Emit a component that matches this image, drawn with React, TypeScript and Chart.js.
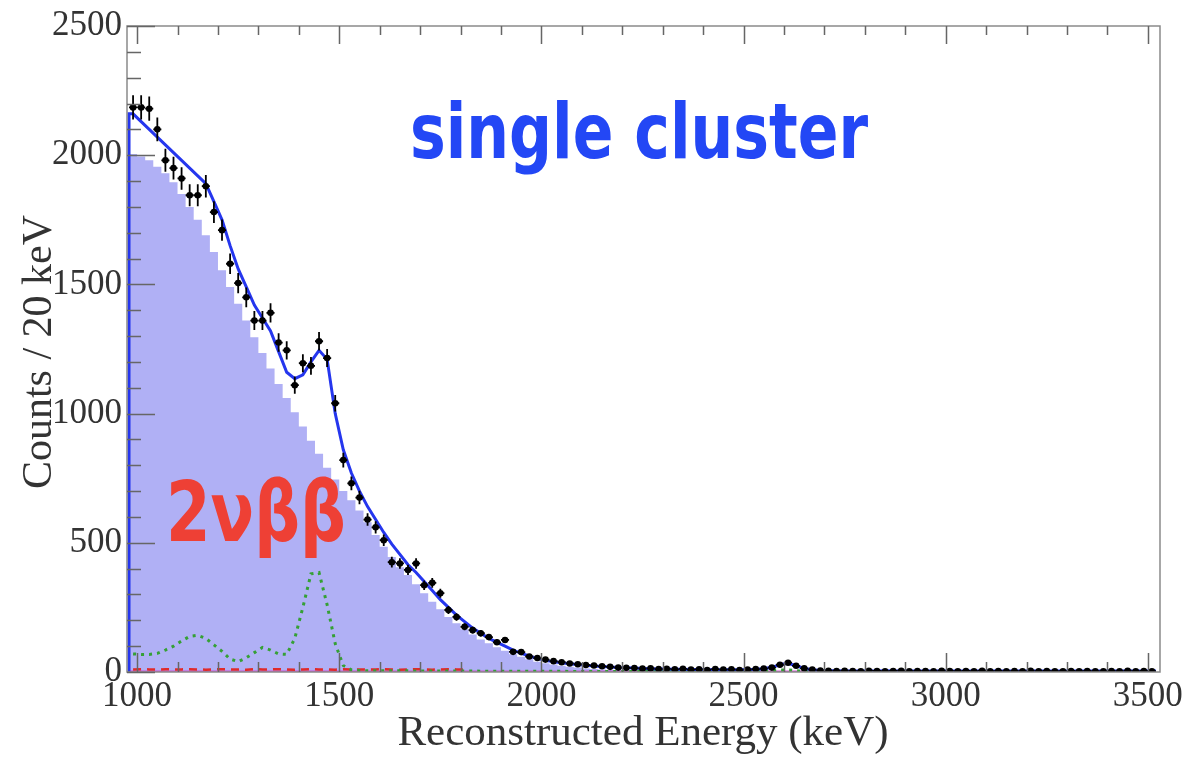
import React, { useEffect, useRef } from "react";
import { Chart, registerables } from "chart.js";

Chart.register(...registerables);

// ---------- data (20 keV bins starting at 980 keV) ----------
const BIN_START = 980;
const BIN_WIDTH = 20;
const X_MIN = 975;
const X_MAX = 3530;
const Y_MIN = 0;
const Y_MAX = 2500;

const xTickValues = [1000, 1500, 2000, 2500, 3000, 3500];
const yTickValues = [0, 500, 1000, 1500, 2000, 2500];

const xTitle = "Reconstructed Energy (keV)";
const yTitle = "Counts / 20 keV";
const labelSingle = "single cluster";
const label2nu = "2νββ";

// measured counts per bin
const dataCounts = [
  2185, 2185, 2180, 2100, 1980, 1950, 1910, 1845, 1845, 1880,
  1780, 1710, 1580, 1505, 1450, 1360, 1360, 1390, 1275, 1245,
  1110, 1195, 1185, 1280, 1215, 1040, 820, 730, 675, 590,
  560, 510, 425, 420, 395, 420, 336, 345, 305, 240,
  213, 175, 162, 150, 135, 115, 124, 78, 77, 60,
  54, 48, 42, 38, 33, 30, 27, 25, 22, 20,
  17, 16, 15, 13, 14, 11, 12, 10, 12, 9,
  10, 8, 11, 9, 10, 8, 9, 11, 13, 17,
  28, 36, 24, 14, 9, 6, 5, 4, 5, 4,
  3, 5, 4, 3, 4, 5, 3, 4, 4, 3,
  5, 4, 3, 4, 3, 5, 3, 4, 3, 4,
  3, 5, 3, 4, 3, 3, 4, 3, 4, 3,
  3, 4, 3, 5, 3, 4, 3,
];

// total fit (blue line, bin centres)
const totalFit = [
  2160, 2130, 2100, 2070, 2040, 2010, 1980, 1950, 1920, 1890,
  1820, 1750, 1650, 1560, 1490, 1420, 1370, 1320, 1240, 1160,
  1135, 1150, 1200, 1245, 1210, 1000, 860, 770, 700, 640,
  590, 540, 495, 455, 415, 385, 350, 315, 280, 250,
  220, 195, 170, 150, 130, 115, 100, 85, 72, 62,
  52, 45, 40, 36, 32, 29, 26, 23, 21, 19,
  17, 16, 15, 14, 13, 12, 12, 11, 11, 10,
  10, 10, 9, 9, 9, 9, 10, 11, 13, 18,
  28, 34, 24, 14, 9, 6, 5, 5, 4, 4,
  4, 4, 4, 5, 4, 4, 4, 4, 4, 4,
  4, 4, 4, 4, 4, 4, 4, 4, 4, 4,
  4, 4, 4, 4, 4, 4, 4, 4, 4, 4,
  4, 4, 4, 4, 4, 4, 4,
];

// 2nu double beta component (filled histogram)
const twoNuBB = [
  2010, 2005, 1995, 1980, 1955, 1930, 1895, 1850, 1800, 1750,
  1690, 1625, 1555, 1490, 1425, 1360, 1295, 1235, 1175, 1115,
  1060, 1005, 950, 895, 845, 790, 745, 700, 665, 625,
  580, 530, 485, 445, 405, 375, 340, 305, 272, 243,
  213, 189, 165, 145, 126, 111, 96, 82, 69, 59,
  49, 40, 34, 29, 24, 20, 17, 14, 12, 10,
  8, 7, 6, 5, 4, 3, 3, 2, 2, 2,
  1, 1, 1, 1, 1, 0,
];

// green dotted background component (bin centres)
const greenBkg = [
  70, 68, 68, 72, 85, 100, 120, 138, 142, 130,
  105, 80, 50, 40, 55, 75, 95, 85, 70, 68,
  130, 250, 380, 385, 260, 110, 25, 8, 6, 5,
  5, 5, 5, 5, 5, 4, 4, 4, 4, 4,
  4, 4, 4, 3, 3, 3, 3, 3, 3, 3,
  3, 3, 3, 3, 2, 2, 2, 2, 2, 2,
  2, 2, 2, 2, 2, 2, 2, 2, 2, 2,
  2, 2, 2, 2, 2, 2, 2, 2, 3, 5,
  8, 8, 5, 3, 2, 2, 2, 2, 2, 2,
  2, 2, 2, 2, 2, 2, 2, 2, 2, 2,
  2, 2, 2, 2, 2, 2, 2, 2, 2, 2,
  2, 2, 2, 2, 2, 2, 2, 2, 2, 2,
  2, 2, 2, 2, 2, 2, 2,
];

// red dashed background component (bin centres)
const redBkg = [
  10, 11, 10, 9, 11, 10, 10, 11, 10, 9,
  10, 11, 10, 10, 9, 11, 10, 10, 11, 10,
  9, 10, 11, 10, 10, 9, 11, 10, 10, 9,
  10, 11, 10, 9, 10, 11, 10, 9, 10, 11,
  10, 9,
];

// magenta flat component (histogram edges, value)
const magentaBkg = [2, 2];

// ---------- helpers ----------
function histPoints(values: number[]) {
  const pts: { x: number; y: number }[] = [];
  values.forEach((v, i) => pts.push({ x: BIN_START + i * BIN_WIDTH, y: v }));
  pts.push({ x: BIN_START + values.length * BIN_WIDTH, y: values[values.length - 1] });
  return pts;
}
function centerPoints(values: number[]) {
  return values.map((v, i) => ({ x: BIN_START + (i + 0.5) * BIN_WIDTH, y: v }));
}
function linePoints(values: number[]) {
  return [
    { x: BIN_START, y: 0 },
    { x: BIN_START, y: values[0] },
    ...centerPoints(values),
    { x: BIN_START + values.length * BIN_WIDTH, y: values[values.length - 1] },
  ];
}

const SERIF = "'Liberation Serif', 'Times New Roman', serif";

const rootPlugin = {
  id: "rootStyle",
  afterDatasetsDraw(chart: any) {
    const { ctx, chartArea: a, scales } = chart;
    const xs = scales.x;
    const ys = scales.y;
    ctx.save();
    ctx.strokeStyle = "#000";
    ctx.lineWidth = 1.8;
    dataCounts.forEach((v, i) => {
      const c = BIN_START + (i + 0.5) * BIN_WIDTH;
      const e = Math.sqrt(v); // Poisson uncertainty of the counts
      const px = xs.getPixelForValue(c);
      const y1 = Math.max(ys.getPixelForValue(v + e), a.top);
      const y2 = Math.min(ys.getPixelForValue(Math.max(v - e, 0)), a.bottom);
      const py = ys.getPixelForValue(v);
      ctx.beginPath();
      ctx.moveTo(px, y1);
      ctx.lineTo(px, y2);
      ctx.moveTo(xs.getPixelForValue(c - BIN_WIDTH / 2), py);
      ctx.lineTo(xs.getPixelForValue(c + BIN_WIDTH / 2), py);
      ctx.stroke();
    });
    ctx.restore();
  },
  afterDraw(chart: any) {
    const { ctx, chartArea: a, scales } = chart;
    const xs = scales.x;
    const ys = scales.y;
    ctx.save();
    ctx.strokeStyle = "#8a8a8a";
    ctx.lineWidth = 1.5;
    ctx.strokeRect(a.left, a.top, a.right - a.left, a.bottom - a.top);
    ctx.strokeStyle = "#666";
    ctx.lineWidth = 1.5;
    ctx.beginPath();
    for (let v = 1000; v <= 3500; v += 100) {
      const px = Math.round(xs.getPixelForValue(v)) + 0.5;
      const major = v % 500 === 0;
      const lb = major ? 19 : 10;
      const lt = major ? 18 : 9;
      ctx.moveTo(px, a.bottom);
      ctx.lineTo(px, a.bottom - lb);
      ctx.moveTo(px, a.top);
      ctx.lineTo(px, a.top + lt);
    }
    for (let v = Y_MIN; v <= Y_MAX; v += 100) {
      const py = Math.round(ys.getPixelForValue(v)) + 0.5;
      const major = v % 500 === 0;
      ctx.moveTo(a.left, py);
      ctx.lineTo(a.left + (major ? 28 : 14), py);
    }
    ctx.stroke();

    ctx.fillStyle = "#333";
    ctx.font = `43px ${SERIF}`;
    ctx.textAlign = "center";
    ctx.textBaseline = "alphabetic";
    ctx.fillText(xTitle, 643, 745);
    ctx.save();
    ctx.translate(51, 352);
    ctx.rotate(-Math.PI / 2);
    ctx.font = `42px ${SERIF}`;
    ctx.fillText(yTitle, 0, 0);
    ctx.restore();

    ctx.textAlign = "left";
    ctx.fillStyle = "#2347f5";
    ctx.font = `bold 76px 'DejaVu Sans', sans-serif`;
    ctx.fillText(labelSingle, 410, 158, 458);
    ctx.fillStyle = "#ee4035";
    ctx.font = `bold 84px 'DejaVu Sans', sans-serif`;
    ctx.fillText(label2nu, 166, 541, 180);
    ctx.restore();
  },
};

export default function App() {
  const canvasRef = useRef<HTMLCanvasElement | null>(null);

  useEffect(() => {
    if (!canvasRef.current) return;
    const tickFont = { family: SERIF, size: 35 };
    const chart = new Chart(canvasRef.current, {
      type: "line",
      data: {
        datasets: [
          {
            label: "data",
            data: centerPoints(dataCounts),
            showLine: false,
            pointRadius: 3.3,
            pointBackgroundColor: "#000",
            pointBorderWidth: 0,
          },
          {
            label: "total",
            data: linePoints(totalFit),
            borderColor: "#2536ee",
            borderWidth: 3,
            pointRadius: 0,
            fill: false,
          },
          {
            label: "green",
            data: centerPoints(greenBkg),
            borderColor: "#35a035",
            borderWidth: 3,
            borderDash: [3, 5],
            pointRadius: 0,
            fill: false,
          },
          {
            label: "red",
            data: centerPoints(redBkg),
            borderColor: "#e02a2a",
            borderWidth: 2.5,
            borderDash: [8, 6],
            pointRadius: 0,
            fill: false,
          },
          {
            label: "magenta",
            data: [
              { x: BIN_START, y: magentaBkg[0] },
              { x: BIN_START + dataCounts.length * BIN_WIDTH, y: magentaBkg[1] },
            ],
            borderColor: "#d050d0",
            borderWidth: 2,
            pointRadius: 0,
            fill: false,
          },
          {
            label: "2nbb",
            data: histPoints(twoNuBB),
            stepped: "after",
            borderWidth: 0,
            borderColor: "rgba(0,0,0,0)",
            backgroundColor: "#b0b0f5",
            pointRadius: 0,
            fill: "origin",
          },
        ],
      } as any,
      options: {
        animation: false,
        responsive: true,
        maintainAspectRatio: false,
        parsing: false as any,
        layout: { padding: { left: 0, right: 29, top: 25, bottom: 0 } },
        plugins: { legend: { display: false }, tooltip: { enabled: false } },
        scales: {
          x: {
            type: "linear",
            min: X_MIN,
            max: X_MAX,
            afterBuildTicks: (axis: any) => {
              axis.ticks = xTickValues.map((v) => ({ value: v }));
            },
            afterFit: (scale: any) => {
              scale.height = 85;
            },
            ticks: {
              font: tickFont,
              color: "#333",
              padding: 4,
              maxRotation: 0,
              autoSkip: false,
              callback: (v: any) => String(v),
            },
            grid: { display: false, drawTicks: false },
            border: { display: false },
          },
          y: {
            type: "linear",
            min: Y_MIN,
            max: Y_MAX,
            afterBuildTicks: (axis: any) => {
              axis.ticks = yTickValues.map((v) => ({ value: v }));
            },
            afterFit: (scale: any) => {
              scale.width = 127;
            },
            ticks: {
              font: tickFont,
              color: "#333",
              padding: 5,
              autoSkip: false,
              callback: (v: any) => String(v),
            },
            grid: { display: false, drawTicks: false },
            border: { display: false },
          },
        },
      } as any,
      plugins: [rootPlugin],
    });
    return () => chart.destroy();
  }, []);

  return (
    <div style={{ position: "absolute", left: 0, top: 0, width: 1189, height: 757, background: "#fff" }}>
      <canvas ref={canvasRef} style={{ display: "block" }} />
    </div>
  );
}
